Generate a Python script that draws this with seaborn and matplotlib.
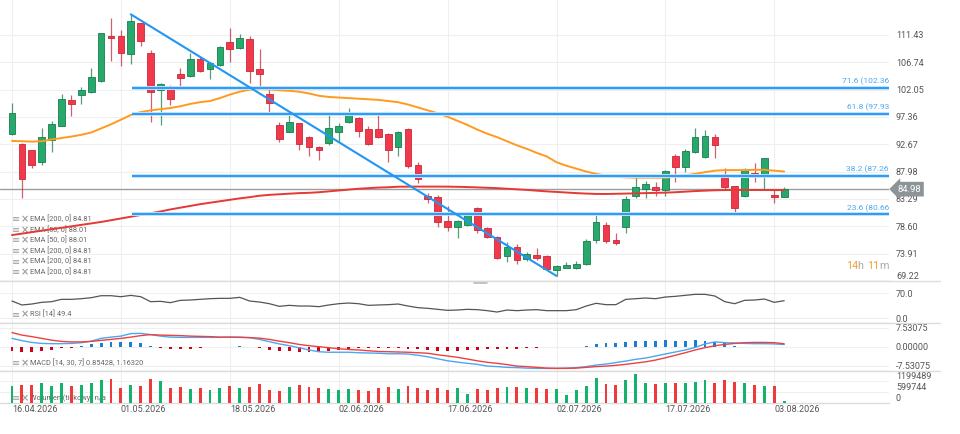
import numpy as np
import pandas as pd
import matplotlib
matplotlib.use("Agg")
import matplotlib.pyplot as plt
import matplotlib.transforms as mtransforms
from matplotlib.lines import Line2D
from matplotlib.offsetbox import TextArea, HPacker, AnnotationBbox
import seaborn as sns

# ---------------- data ----------------
date_ticks = [0, 11, 22, 33, 44, 55, 66, 77]
date_labels = ["16.04.2026", "01.05.2026", "18.05.2026", "02.06.2026",
               "17.06.2026", "02.07.2026", "17.07.2026", "03.08.2026"]

open_ = [94.45, 92.68, 91.65, 89.59, 93.42, 95.87, 100.23, 101.09, 101.70, 103.54,
         111.20, 111.20, 108.23, 113.44, 108.39, 102.00, 102.51, 104.69, 104.35, 107.31,
         105.65, 106.28, 110.18, 109.25, 110.69, 105.55, 101.36, 95.94, 94.74, 96.28,
         93.88, 92.27, 92.85, 94.84, 96.56, 97.14, 95.26, 95.26, 94.40, 92.17,
         95.31, 89.13, 83.81, 83.69, 79.58, 78.55, 78.84, 81.70, 78.27, 76.83,
         73.52, 75.12, 72.96, 73.64, 73.57, 71.12, 71.52, 71.52, 72.10, 76.27,
         78.84, 76.20, 78.45, 83.81, 85.07, 85.41, 84.84, 90.68, 88.74, 91.31,
         90.45, 94.00, 87.59, 85.53, 83.81, 87.81, 87.24, 83.93, 83.69]
close_ = [98.00, 86.68, 89.13, 93.88, 96.11, 100.45, 99.65, 101.94, 104.23, 111.72,
          110.97, 108.39, 113.78, 110.35, 101.70, 103.03, 100.45, 104.11, 107.31, 105.31,
          106.68, 109.32, 109.08, 110.86, 105.26, 104.74, 99.82, 93.54, 96.56, 92.73,
          92.27, 91.70, 95.43, 95.82, 97.71, 95.01, 92.73, 94.00, 91.70, 94.74,
          89.01, 86.68, 83.30, 79.41, 78.55, 79.58, 80.56, 78.00, 76.73, 73.13,
          75.12, 72.84, 73.86, 73.23, 71.24, 71.81, 71.98, 72.10, 76.10, 79.41,
          76.10, 75.80, 83.30, 85.41, 85.87, 84.84, 88.10, 88.84, 91.53, 94.00,
          94.11, 92.56, 85.31, 81.70, 88.27, 87.36, 90.28, 83.59, 84.98]
high_ = [99.70, 92.90, 91.70, 95.43, 96.68, 101.26, 101.14, 102.46, 105.72, 111.80,
         114.29, 112.29, 114.98, 113.50, 108.86, 103.20, 102.85, 105.82, 108.29, 107.70,
         106.86, 109.60, 112.58, 111.55, 111.26, 108.98, 102.46, 96.56, 97.71, 96.40,
         94.16, 92.40, 97.80, 96.28, 98.86, 97.40, 95.82, 98.00, 94.60, 94.90,
         95.53, 89.70, 84.28, 83.90, 82.15, 79.70, 80.68, 81.90, 78.40, 77.00,
         75.98, 75.58, 74.16, 74.84, 73.70, 71.90, 72.54, 72.66, 76.44, 80.56,
         79.41, 77.42, 83.87, 87.54, 86.44, 86.15, 88.27, 90.97, 91.88, 95.43,
         95.14, 94.45, 88.56, 85.60, 88.56, 89.53, 90.30, 84.84, 85.31]
low_ = [94.30, 83.50, 88.56, 89.13, 91.41, 95.80, 97.59, 99.54, 101.50, 103.32,
        106.97, 106.16, 106.40, 109.49, 96.56, 95.99, 99.42, 102.73, 104.30, 105.10,
        103.83, 106.10, 106.85, 109.03, 103.15, 102.29, 98.00, 93.13, 94.70, 91.70,
        90.73, 90.00, 92.50, 93.13, 96.40, 94.00, 92.56, 93.71, 89.59, 90.73,
        88.56, 85.99, 82.56, 78.55, 77.86, 76.66, 78.70, 77.42, 76.56, 73.00,
        72.54, 72.10, 72.72, 72.84, 71.10, 70.09, 71.40, 71.24, 72.00, 75.70,
        75.70, 75.41, 77.42, 83.42, 83.42, 83.87, 83.81, 86.16, 87.98, 91.20,
        90.40, 90.28, 84.84, 80.73, 83.70, 86.27, 85.01, 82.56, 83.60]

ema50 = [93.25, 93.20, 93.13, 93.20, 93.50, 93.75, 94.00, 94.30, 94.70, 95.40,
         96.10, 96.90, 97.70, 98.20, 98.50, 98.70, 98.90, 99.20, 99.60, 99.90,
         100.10, 100.60, 101.20, 101.70, 102.05, 102.15, 102.10, 101.95, 101.85, 101.70,
         101.40, 101.00, 100.80, 100.70, 100.60, 100.50, 100.40, 100.30, 100.10, 99.90,
         99.50, 99.00, 98.50, 98.00, 97.40, 96.70, 96.00, 95.20, 94.50, 93.90,
         93.20, 92.50, 91.90, 91.20, 90.60, 89.60, 89.00, 88.50, 88.00, 87.60,
         87.30, 87.10, 87.00, 86.95, 86.95, 86.95, 86.95, 87.10, 87.35, 87.60,
         87.90, 88.15, 88.25, 88.25, 88.25, 88.30, 88.30, 88.15, 88.01]
ema200 = [77.10, 77.35, 77.60, 77.85, 78.10, 78.35, 78.60, 78.85, 79.10, 79.35,
          79.65, 79.95, 80.25, 80.55, 80.85, 81.15, 81.50, 81.80, 82.10, 82.40,
          82.65, 82.90, 83.15, 83.40, 83.60, 83.85, 84.00, 84.10, 84.20, 84.30,
          84.35, 84.45, 84.60, 84.75, 84.90, 85.05, 85.15, 85.25, 85.30, 85.40,
          85.41, 85.42, 85.42, 85.42, 85.41, 85.38, 85.34, 85.28, 85.22, 85.15,
          85.05, 84.95, 84.85, 84.72, 84.60, 84.50, 84.40, 84.30, 84.22, 84.16,
          84.15, 84.18, 84.22, 84.26, 84.30, 84.34, 84.38, 84.45, 84.55, 84.65,
          84.72, 84.79, 84.82, 84.83, 84.84, 84.84, 84.83, 84.82, 84.81]

rsi = [48.4, 37.3, 40.0, 44.7, 46.6, 53.1, 53.1, 54.9, 57.7, 63.3,
       63.3, 60.5, 64.2, 60.5, 46.6, 47.5, 43.8, 50.3, 51.2, 53.1,
       54.9, 55.9, 55.9, 58.7, 48.4, 45.6, 40.9, 33.5, 36.3, 34.4,
       34.4, 32.6, 37.3, 40.9, 42.8, 40.9, 36.3, 37.3, 38.2, 40.0,
       34.4, 29.8, 27.9, 25.1, 22.3, 23.2, 25.1, 24.2, 21.4, 17.6,
       23.2, 21.4, 23.2, 24.2, 21.4, 21.4, 21.4, 24.2, 34.4, 42.0,
       38.2, 38.2, 53.1, 54.9, 56.8, 54.9, 59.6, 61.5, 64.3, 67.1,
       67.1, 62.4, 46.6, 40.9, 50.3, 51.2, 54.0, 44.7, 49.4]

macd_line = [3.3, 2.4, 1.7, 1.3, 1.2, 1.2, 1.3, 1.6, 2.2, 3.3,
             3.8, 4.2, 5.2, 5.3, 4.8, 4.2, 3.8, 3.7, 3.7, 3.7,
             3.7, 3.7, 3.8, 3.8, 3.6, 2.9, 2.0, 1.1, 0.4, -0.4,
             -1.3, -2.0, -2.2, -2.2, -2.2, -2.4, -2.5, -2.6, -2.8, -2.8,
             -2.9, -3.4, -4.0, -4.8, -5.6, -6.1, -6.6, -7.0, -7.7, -7.9,
             -8.2, -8.3, -8.5, -8.6, -8.6, -8.6, -8.5, -8.3, -7.9, -7.3,
             -6.9, -6.3, -5.7, -5.0, -4.5, -3.7, -2.9, -2.1, -1.3, -0.3,
             1.1, 1.9, 1.6, 1.5, 1.3, 1.2, 1.2, 1.1, 0.85428]
signal_line = [5.6, 4.6, 4.0, 3.3, 2.6, 2.1, 1.9, 1.9, 2.1, 2.5,
               2.9, 3.3, 3.8, 4.4, 4.8, 4.6, 4.5, 4.4, 4.2, 4.1,
               4.0, 3.8, 3.8, 3.7, 3.6, 3.4, 2.9, 2.2, 1.6, 0.9,
               0.4, 0.0, -0.4, -0.8, -1.1, -1.3, -1.6, -1.9, -2.0, -2.1,
               -2.2, -2.4, -2.6, -3.2, -3.7, -4.2, -4.9, -5.6, -6.2, -6.6,
               -7.1, -7.7, -7.9, -8.2, -8.5, -8.6, -8.6, -8.5, -8.2, -7.9,
               -7.7, -7.4, -7.0, -6.5, -6.0, -5.3, -4.4, -3.4, -2.4, -1.3,
               -0.4, 0.4, 0.9, 1.3, 1.6, 1.7, 1.7, 1.6, 1.1632]
macd_hist = [-1.85, -2.1, -2.1, -1.85, -1.3, -0.7, -0.4, 0.4, 0.9, 1.3,
             1.7, 1.7, 1.7, 1.3, 0.4, -0.4, -0.8, -0.8, -0.8, -0.5,
             -0.3, 0.0, 0.0, 0.2, 0.0, -0.5, -1.3, -1.85, -1.85, -2.1,
             -2.1, -2.1, -1.7, -1.2, -0.8, -0.5, -0.5, -0.5, -0.5, -0.5,
             -0.8, -1.05, -1.3, -1.7, -1.7, -1.7, -1.45, -1.45, -1.05, -1.05,
             -0.8, -0.8, -0.5, -0.5, -0.3, -0.3, 0.0, 0.0, 0.4, 1.05,
             1.3, 1.3, 1.7, 2.4, 2.4, 2.4, 2.6, 2.4, 2.4, 2.6,
             2.4, 2.0, 1.3, 0.4, 0.0, 0.0, 0.0, -0.3, -0.3]

volume = [937e3, 994e3, 994e3, 1090e3, 937e3, 1090e3, 937e3, 994e3, 1125e3, 1275e3,
          1350e3, 844e3, 994e3, 937e3, 1350e3, 1240e3, 862e3, 900e3, 769e3, 844e3,
          750e3, 844e3, 937e3, 844e3, 900e3, 1050e3, 750e3, 675e3, 881e3, 994e3,
          881e3, 844e3, 769e3, 750e3, 769e3, 712e3, 675e3, 844e3, 881e3, 787e3,
          937e3, 862e3, 750e3, 862e3, 750e3, 844e3, 487e3, 787e3, 712e3, 844e3,
          900e3, 900e3, 844e3, 862e3, 787e3, 787e3, 431e3, 712e3, 937e3, 1370e3,
          1050e3, 994e3, 1275e3, 1610e3, 1125e3, 1050e3, 1090e3, 1125e3, 1090e3, 1180e3,
          1275e3, 1125e3, 1275e3, 1180e3, 1125e3, 994e3, 937e3, 937e3, 112e3]

fib_levels = [102.36, 97.93, 87.26, 80.66]
fib_labels = ["71.6 (102.36", "61.8 (97.93", "38.2 (87.26", "23.6 (80.66"]
trend_start, trend_end = 12, 55
last_price = 84.98

price_ticks = [111.43, 106.74, 102.05, 97.36, 92.67, 87.98, 83.29, 78.60, 73.91, 69.22]
rsi_ticks = [70.0, 0.0]
macd_ticks = [7.53075, 0.0, -7.53075]
vol_ticks = [0, 599744, 1199489]

legend_main = ["EMA [200, 0] 84.81", "EMA [50, 0] 88.01", "EMA [50, 0] 88.01",
               "EMA [200, 0] 84.81", "EMA [200, 0] 84.81", "EMA [200, 0] 84.81"]
rsi_legend = "RSI [14] 49.4"
macd_legend = "MACD [14, 30, 7] 0.85428, 1.16320"
vol_legend = "Wolumen (tickowy) n/a"

# ---------------- style ----------------
sns.set_theme(style="white")
plt.rcParams["font.family"] = ["Roboto", "DejaVu Sans"]

W, H = 960, 434
fig = plt.figure(figsize=(W / 100, H / 100), dpi=100)
fig.patch.set_facecolor("white")
px = mtransforms.Affine2D().scale(1 / W, -1 / H).translate(0, 1) + fig.transFigure

RIGHT = 889
def add_ax(y0, y1):
    return fig.add_axes([0, 1 - y1 / H, RIGHT / W, (y1 - y0) / H])

ax = add_ax(0, 281)
ax_r = add_ax(281, 323)
ax_m = add_ax(323, 371)
ax_v = add_ax(371, 403)

idx = np.arange(len(open_))
o, c, h, l = map(np.array, (open_, close_, high_, low_))
up = c >= o

GREEN, GREEN_E = "#27a96b", "#1a7c4e"
RED, RED_E = "#f2394b", "#c42a3a"
GRID = "#efefef"
LBL = "#555555"

xlim = (-12 / 9.9, (RIGHT - 12) / 9.9)
for a in (ax, ax_r, ax_m, ax_v):
    a.set_facecolor("white")
    a.set_xlim(*xlim)
    for s in ("top", "left", "right"):
        a.spines[s].set_visible(False)
    a.spines["bottom"].set_color("#dcdcdc")
    a.spines["bottom"].set_linewidth(1.0)
    a.set_xticks(date_ticks)
    a.grid(True, color=GRID, lw=0.8, zorder=0)
    a.set_axisbelow(True)
    a.yaxis.tick_right()
    a.tick_params(axis="y", length=0, pad=5, labelsize=6.5, labelcolor=LBL)
    a.tick_params(axis="x", length=0)
    a.set_xlabel("")
    a.set_ylabel("")
    if a is not ax_v:
        a.set_xticklabels([])

# ---------------- main panel ----------------
ax.set_ylim(111.43 - 246 / 5.83, 111.43 + 35 / 5.83)
ax.set_yticks(price_ticks)
ax.set_yticklabels([f"{v:.2f}" for v in price_ticks])
ax.get_yticklabels()[-1].set_va("bottom")

for i in idx:
    col, ec = (GREEN, GREEN_E) if up[i] else (RED, RED_E)
    ax.vlines(i, l[i], h[i], color=ec, lw=0.9, alpha=0.75, zorder=3)
    lo, hi = min(o[i], c[i]), max(o[i], c[i])
    ax.bar(i, max(hi - lo, 0.15), bottom=lo, width=0.68, color=col,
           edgecolor=ec, linewidth=0.6, zorder=4)

sns.lineplot(x=idx, y=ema50, ax=ax, color="#ff9a1f", linewidth=1.4, zorder=5, legend=False)
sns.lineplot(x=idx, y=ema200, ax=ax, color="#e53935", linewidth=1.4, zorder=5, legend=False)

ax.axhline(last_price, color="#9e9e9e", lw=1.0, zorder=2)

sns.lineplot(x=[trend_start, trend_end], y=[h[trend_start], l[trend_end]], ax=ax,
             color="#2196f3", linewidth=1.5, zorder=6, legend=False)
for lev, lab in zip(fib_levels, fib_labels):
    ax.hlines(lev, trend_start + 0.1, xlim[1], color="#bfe1ff", lw=2.8, zorder=5)
    ax.hlines(lev, trend_start + 0.1, xlim[1], color="#2196f3", lw=1.3, zorder=6)
    ax.annotate(lab, xy=(xlim[1], lev), xytext=(0, 2), textcoords="offset points",
                ha="right", va="bottom", fontsize=6, color="#4aa8f0", zorder=7)
ax.set_xlim(*xlim)

ax.annotate(f"{last_price:.2f}", xy=(1.0, last_price),
            xycoords=mtransforms.blended_transform_factory(ax.transAxes, ax.transData),
            xytext=(6, 0), textcoords="offset points", ha="left", va="center",
            fontsize=6.8, color="white", annotation_clip=False, zorder=20,
            bbox=dict(boxstyle="larrow,pad=0.3", fc="#8c9497", ec="none"))

# countdown text
parts = [TextArea("14", textprops=dict(color="#f7a030", fontsize=7.8)),
         TextArea("h ", textprops=dict(color="#aaaaaa", fontsize=7.8)),
         TextArea("11", textprops=dict(color="#f7a030", fontsize=7.8)),
         TextArea("m", textprops=dict(color="#aaaaaa", fontsize=7.8))]
pack = HPacker(children=parts, sep=0, pad=0, align="baseline")
ab = AnnotationBbox(pack, (RIGHT, H - 266), xycoords="figure pixels",
                    box_alignment=(1, 0.5), frameon=False, pad=0)
fig.add_artist(ab)

def legend_line(a, y, text, zorder=1):
    a.text(12, y, "≡", transform=px, fontsize=7, color="#a0a0a0", va="center",
           ha="left", family="DejaVu Sans", clip_on=False, zorder=zorder)
    a.text(21, y, "×", transform=px, fontsize=7, color="#a0a0a0", va="center",
           ha="left", family="DejaVu Sans", weight="bold", clip_on=False, zorder=zorder)
    a.text(30, y, text, transform=px, fontsize=5.3, color="#666666", va="center",
           ha="left", clip_on=False, zorder=zorder)

for k, t in enumerate(legend_main):
    legend_line(ax, 219.3 + 10.6 * k, t)

fig.add_artist(Line2D([474 / W, 486 / W], [1 - 281.5 / H] * 2, color="#bdbdbd", lw=2))

# ---------------- RSI ----------------
ax_r.set_ylim((318.3 - 323) / 0.357, (318.3 - 281) / 0.357)
sns.lineplot(x=idx, y=rsi, ax=ax_r, color="#555555", linewidth=0.9, legend=False)
ax_r.set_yticks(rsi_ticks)
ax_r.set_yticklabels([f"{v:.1f}" for v in rsi_ticks])
legend_line(ax_r, 314.7, rsi_legend)

# ---------------- MACD ----------------
ax_m.set_ylim(-(371 - 346.7) / 2.52, (346.7 - 323) / 2.52)
hist = np.array(macd_hist)
ax_m.bar(idx, hist, width=0.3, linewidth=0,
         color=np.where(hist >= 0, "#1a7fd4", "#d0021b"), zorder=3)
sns.lineplot(x=idx, y=macd_line, ax=ax_m, color="#4aa8ee", linewidth=1.0, zorder=4, legend=False)
sns.lineplot(x=idx, y=signal_line, ax=ax_m, color="#ef4040", linewidth=1.0, zorder=4, legend=False)
ax_m.set_yticks(macd_ticks)
ax_m.set_yticklabels([f"{v:.5f}" for v in macd_ticks])
legend_line(ax_m, 363.3, macd_legend)

# ---------------- Volume ----------------
ax_v.set_ylim(0, (402.7 - 371) / 10.67 * 600000)
ax_v.bar(idx, volume, width=0.3, linewidth=0,
         color=np.where(up, "#12b36c", "#ee3a3a"), zorder=3)
ax_v.set_yticks(vol_ticks)
ax_v.set_yticklabels([str(v) for v in vol_ticks])
for t in ax_v.get_yticklabels():
    t.set_va("bottom")
legend_line(ax_v, 398.3, vol_legend, zorder=1)
ax_v.set_xticks(date_ticks)
ax_v.set_xticklabels(date_labels, ha="left")
ax_v.tick_params(axis="x", pad=1.5, labelsize=6.5, labelcolor=LBL)

for yy in (281, 323, 371):
    fig.add_artist(Line2D([0, 940 / W], [1 - yy / H] * 2, color="#dcdcdc", lw=1.0))

fig.savefig("out.png", dpi=100, facecolor="white")
